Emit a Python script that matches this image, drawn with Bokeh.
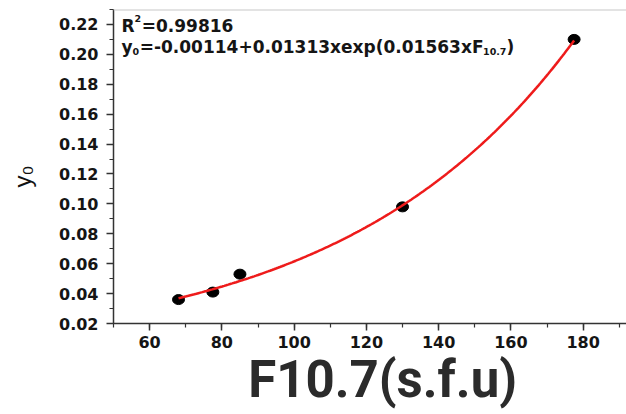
import numpy as np
from bokeh.plotting import figure
from bokeh.models import Label, Span, SingleIntervalTicker, NumeralTickFormatter, Range1d
from bokeh.embed import file_html
from bokeh.resources import INLINE

# ---- data ----
f107 = [68.0, 77.5, 85.0, 130.0, 177.5]          # F10.7 (s.f.u)
y0 = [0.036, 0.041, 0.053, 0.098, 0.210]          # y0
fit_a, fit_b, fit_c = -0.00114, 0.01313, 0.01563  # y0 = a + b*exp(c*F10.7)
r2_text = "0.99816"
x_tick_interval = 20
y_tick_interval = 0.02
x_label = "F10.7(s.f.u)"
y_label = "y\u2080"

# ---- layout ----
W, H = 626, 414
FL, FR, FT, FB = 113, 626, 9, 323
XR = (50.0, 192.0)
YR = (0.02, 0.23)

p = figure(width=W, height=H, x_range=Range1d(*XR), y_range=Range1d(*YR),
           output_backend="svg", toolbar_location=None,
           min_border_left=FL, min_border_right=0,
           min_border_top=FT, min_border_bottom=H - FB)
p.background_fill_color = "white"
p.border_fill_color = "white"
p.outline_line_color = None
p.xgrid.visible = False
p.ygrid.visible = False

p.xaxis.ticker = SingleIntervalTicker(interval=x_tick_interval, num_minor_ticks=2)
p.yaxis.ticker = SingleIntervalTicker(interval=y_tick_interval, num_minor_ticks=2)
p.yaxis.formatter = NumeralTickFormatter(format="0.00")

for ax in (p.xaxis[0], p.yaxis[0]):
    ax.axis_line_color = "#333333"
    ax.axis_line_width = 1.5
    ax.major_tick_line_color = "#333333"
    ax.major_tick_line_width = 1.5
    ax.minor_tick_line_color = "#333333"
    ax.minor_tick_line_width = 1.2
    ax.major_tick_out = 7
    ax.major_tick_in = 0
    ax.minor_tick_out = 4
    ax.minor_tick_in = 0
    ax.major_label_text_font = "DejaVu Sans"
    ax.major_label_text_font_style = "bold"
    ax.major_label_text_font_size = "16px"
    ax.major_label_text_color = "#151515"
p.xaxis.major_label_standoff = 5
p.yaxis.major_label_standoff = 8

# axis titles
p.xaxis.axis_label = "\u00a0\u00a0" + x_label
p.xaxis.axis_label_text_font = "Roboto"
p.xaxis.axis_label_text_font_style = "bold"
p.xaxis.axis_label_text_font_size = "51px"
p.xaxis.axis_label_text_color = "#2b2b2b"
p.xaxis.axis_label_standoff = -1

p.yaxis.axis_label = y_label + "\u00a0\u00a0\u00a0"
p.yaxis.axis_label_text_font = "Liberation Sans"
p.yaxis.axis_label_text_font_style = "normal"
p.yaxis.axis_label_text_font_size = "24px"
p.yaxis.axis_label_text_color = "#111111"
p.yaxis.axis_label_standoff = 20

p.add_layout(Span(location=YR[1], dimension="width", line_color="#c8c8c8", line_width=2))

# data points
p.ellipse(x=f107, y=y0, width=12, height=10, width_units="screen", height_units="screen",
          fill_color="black", line_color="black")

# fitted curve from the printed equation
xs = np.linspace(f107[0], f107[-1], 200)
ys = fit_a + fit_b * np.exp(fit_c * xs)
p.line(xs, ys, line_color="#ee1b1b", line_width=2.5)


def px2x(px):
    return XR[0] + (px - FL) * (XR[1] - XR[0]) / (FR - FL)


def px2y(py):
    return YR[1] - (py - FT) * (YR[1] - YR[0]) / (FB - FT)


def lab(px, py, text, size, bold=True, font="DejaVu Sans", color="#151515"):
    p.add_layout(Label(x=px2x(px), y=px2y(py), text=text, text_font=font,
                       text_font_size=f"{size}px",
                       text_font_style="bold" if bold else "normal",
                       text_color=color, text_align="left",
                       text_baseline="alphabetic"))


# approximate DejaVu Sans Bold advance widths (em)
EM = {"0": .696, "1": .696, "2": .696, "3": .696, "4": .696, "5": .696, "6": .696,
      "7": .696, "8": .696, "9": .696, ".": .381, "=": .838, "+": .838, "-": .415,
      "x": .712, "e": .678, "p": .716, "(": .457, ")": .457, "F": .683, "R": .770,
      "y": .652}


def tw(s, size):
    return sum(EM.get(c, 0.65) for c in s) * size


FS = 17
SUB = 9.5
# line 1: R^2=...
x = 121
lab(x, 25, "R", FS)
x += tw("R", FS)
lab(x, 18, "2", SUB)
x += tw("2", SUB) + 0.5
lab(x, 25, "=" + r2_text, FS)

# line 2: y0=...
eq_main = f"={fit_a:.5f}+{fit_b:.5f}xexp({fit_c:.5f}xF"
x = 121
lab(x, 46, "y", FS)
x += tw("y", FS)
lab(x, 51, "0", SUB)
x += tw("0", SUB) + 0.5
lab(x, 46, eq_main, FS)
x += tw(eq_main, FS) - 4
lab(x, 51, "10.7", SUB)
x += tw("10.7", SUB)
lab(x, 46, ")", FS)

open("out.html", "w").write(file_html(p, INLINE))
